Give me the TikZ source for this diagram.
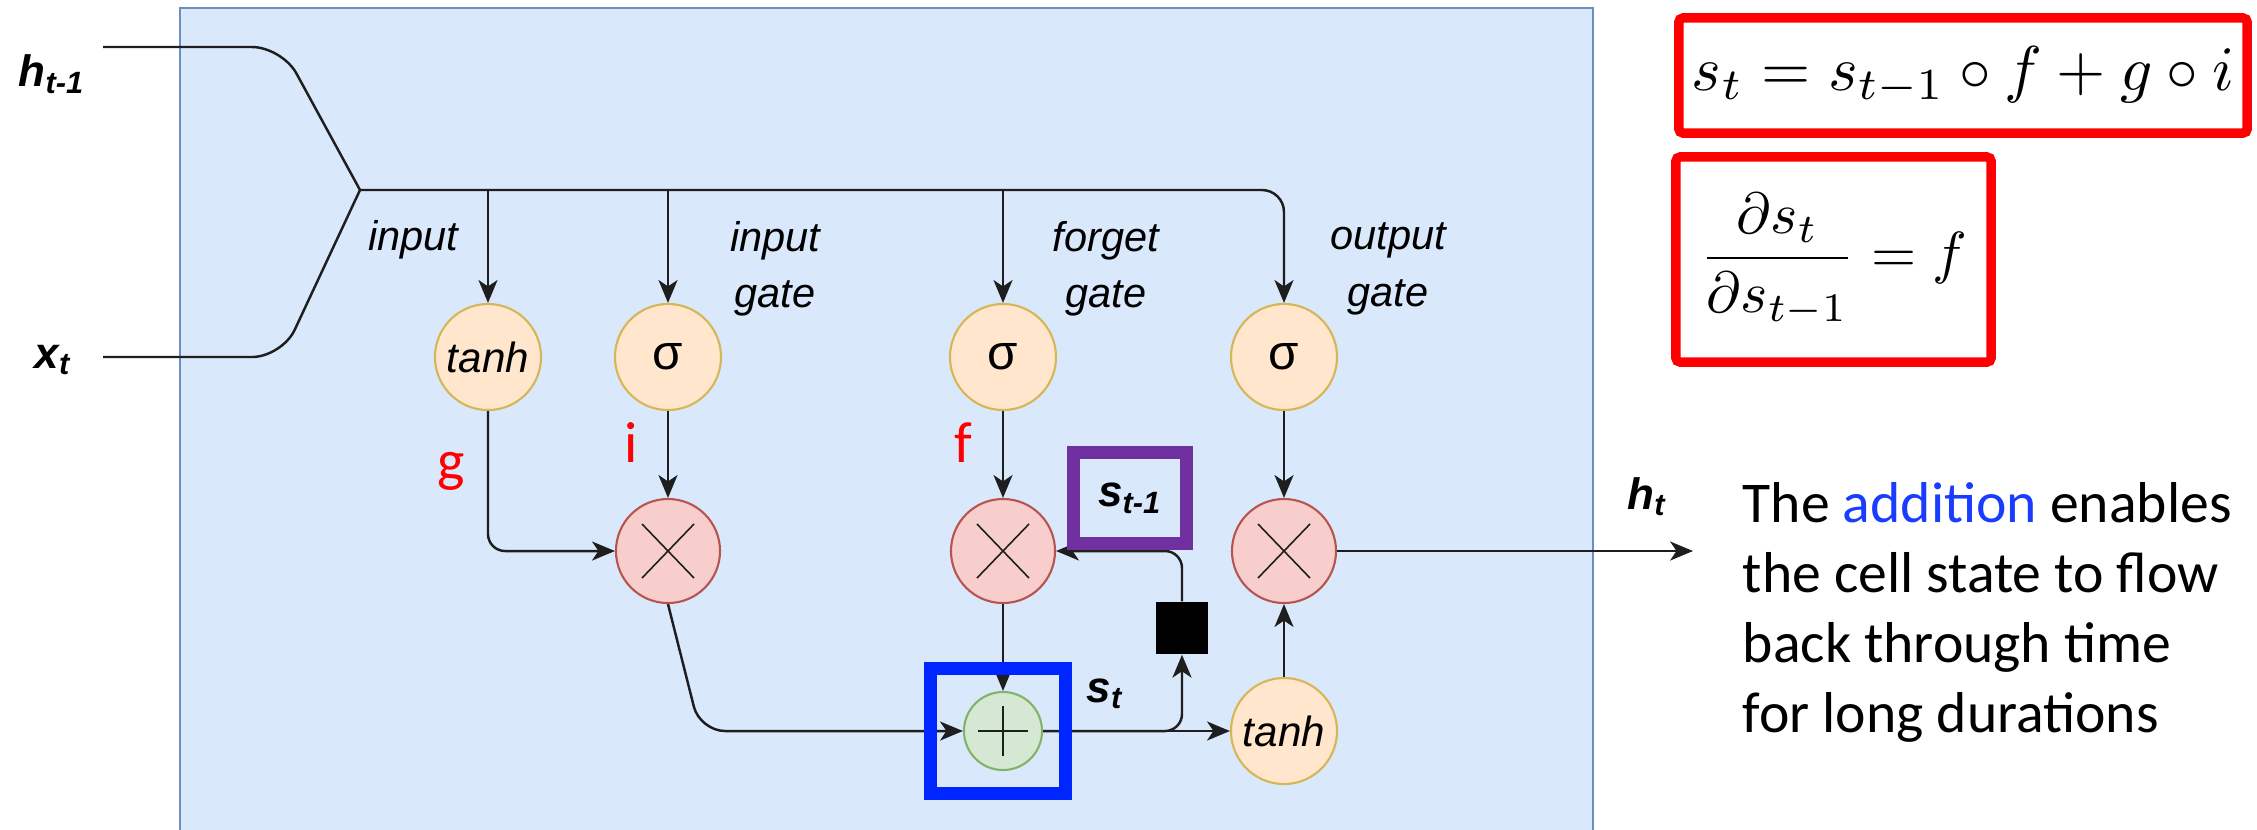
\documentclass[tikz,border=0pt]{standalone}
\usepackage{fontspec}
\usepackage{graphicx}
\setsansfont{Liberation Sans}
\newfontfamily\calibri{Carlito}
\usetikzlibrary{arrows.meta}

\definecolor{cellfill}{HTML}{DAE8FC}
\definecolor{cellline}{HTML}{6C8EBF}
\definecolor{gatefill}{HTML}{FFE6CC}
\definecolor{gateline}{HTML}{D6B656}
\definecolor{mulfill}{HTML}{F8CECC}
\definecolor{mulline}{HTML}{B85450}
\definecolor{addfill}{HTML}{D5E8D4}
\definecolor{addline}{HTML}{82B366}
\definecolor{hlblue}{HTML}{0026FF}
\definecolor{hlpurple}{HTML}{7030A0}
\definecolor{hlred}{HTML}{FF0000}
\definecolor{wordblue}{HTML}{1A3CFF}
\definecolor{wire}{HTML}{1E1E1E}

\newcommand{\lblfont}{\sffamily\bfseries\itshape\fontsize{12.5}{14}\selectfont}
\newcommand{\gatefont}{\sffamily\itshape\fontsize{11.8}{16}\selectfont}

\tikzset{
  wireline/.style={draw=wire, line width=0.7pt},
  arr/.style={wireline, -{Stealth[length=6.5pt, width=5.4pt, inset=1.8pt]}},
  gate/.style={circle, draw=gateline, fill=gatefill, line width=0.6pt, minimum size=1.06cm,
    inner sep=0pt, font=\sffamily\fontsize{12}{14}\selectfont},
  mul/.style={circle, draw=mulline, fill=mulfill, line width=0.6pt, minimum size=1.04cm, inner sep=0pt,
    path picture={\draw[wire, line width=0.45pt] (path picture bounding box.center)
      +(-0.26cm,-0.27cm) -- +(0.26cm,0.27cm) +(-0.26cm,0.27cm) -- +(0.26cm,-0.27cm);}},
  addnode/.style={circle, draw=addline, fill=addfill, line width=0.6pt, minimum size=0.78cm, inner sep=0pt,
    path picture={\draw[wire, line width=0.5pt] (path picture bounding box.center)
      +(-0.25cm,0) -- +(0.25cm,0) +(0,-0.25cm) -- +(0,0.25cm);}},
  delaybox/.style={fill=black, minimum size=0.52cm, inner sep=0pt},
  iolbl/.style={font=\lblfont, inner sep=0pt},
  gatelbl/.style={font=\gatefont, align=center, inner sep=0pt},
  redlbl/.style={text=hlred, font=\calibri\fontsize{16.5}{18}\selectfont, inner sep=0pt, anchor=base},
  hlbox/.style={draw, line width=3.7pt, inner sep=0pt},
  eqbox/.style={draw=hlred, line width=2.7pt, rounded corners=1.2pt, inner sep=0pt},
}

\begin{document}
\begin{tikzpicture}[x=0.01cm, y=-0.01cm]
  \useasboundingbox (0,0) rectangle (2257,829);
  \clip (0,0) rectangle (2257,829);

  % Cellule
  \draw[fill=cellfill, draw=cellline, line width=0.6pt] (180,8) rectangle (1593,870);

  % Entrees
  \node[iolbl] (hprev) at (52,74) {h\textsubscript{t-1}};
  \node[iolbl] (xin) at (53,360) {x\textsubscript{t}};
  \coordinate (hstart) at (103,47);
  \coordinate (xstart) at (103,357);
  \coordinate (hbend) at (282,47);
  \coordinate (xbend) at (282,357);
  \coordinate (junc) at (360,190);
  \draw[wireline, rounded corners=0.3cm] (hstart) -- (hbend) -- (junc);
  \draw[wireline, rounded corners=0.3cm] (xstart) -- (xbend) -- (junc);

  % Portes
  \node[gate] (tanhg) at (488,357) {\textit{tanh}};
  \node[gate, font=\sffamily\fontsize{14}{16}\selectfont] (sigi) at (668,357) {σ};
  \node[gate, font=\sffamily\fontsize{14}{16}\selectfont] (sigf) at (1003,357) {σ};
  \node[gate, font=\sffamily\fontsize{14}{16}\selectfont] (sigo) at (1284,357) {σ};
  \node[gatelbl, anchor=base] (lblin) at (413,250) {input};
  \node[gatelbl] (lblig) at (775,269) {input\\gate};
  \node[gatelbl] (lblfg) at (1106,269) {forget\\gate};
  \node[gatelbl] (lblog) at (1388,269) {output\\gate};
  \node[redlbl] (lblg) at (451,480) {g};
  \node[redlbl] (lbli) at (631,462) {i};
  \node[redlbl] (lblf) at (963,462) {f};

  % Operations
  \node[mul] (muli) at (668,551) {};
  \node[mul] (mulf) at (1003,551) {};
  \node[mul] (mulo) at (1284,551) {};
  \node[addnode] (add) at (1003,731) {};
  \node[gate] (tanhc) at (1284,731) {\textit{tanh}};
  \node[delaybox] (delay) at (1182,628) {};
  \node[iolbl] (slbl) at (1105,694) {s\textsubscript{t}};
  \node[iolbl] (hlbl) at (1647,497) {h\textsubscript{t}};

  % Connexions
  \draw[arr, rounded corners=0.22cm] (junc) -- (sigo |- junc) -- (sigo);
  \foreach \g in {tanhg, sigi, sigf}
    \draw[arr] (\g |- junc) -- (\g);
  \draw[arr, rounded corners=0.17cm] (tanhg) -- (tanhg |- muli) -- (muli);
  \foreach \g/\m in {sigi/muli, sigf/mulf, sigo/mulo}
    \draw[arr] (\g) -- (\m);
  \coordinate (ibend) at (700,731);
  \draw[arr, rounded corners=0.25cm] (muli.south) -- (ibend) -- (add);
  \draw[arr] (mulf) -- (add);
  \draw[arr] (add) -- (tanhc);
  \draw[arr, rounded corners=0.17cm] (add) -- (delay |- add) -- (delay);
  \draw[arr, rounded corners=0.17cm] (delay) -- (delay |- mulf) -- (mulf);
  \draw[arr] (tanhc) -- (mulo);
  \coordinate (hout) at (1693,551);
  \draw[arr] (mulo) -- (hout);

  % Mise en evidence
  \node[hlbox, draw=hlblue, minimum width=1.355cm, minimum height=1.25cm] (addhl) at (998,731) {};
  \node[hlbox, draw=hlpurple, minimum width=1.125cm, minimum height=0.9cm, font=\lblfont] (sprev) at (1130,498) {s\textsubscript{t-1}};

  % Equations
  \node[eqbox, minimum width=5.68cm, minimum height=1.15cm] (eqone) at (1963,75.5)
    {\scalebox{1.8}{$s_t = s_{t-1}\circ f + g\circ i$}};
  \node[eqbox, minimum width=3.15cm, minimum height=2.05cm] (eqtwo) at (1833.5,259.5)
    {\scalebox{1.65}{$\displaystyle\frac{\partial s_t}{\partial s_{t-1}} = f$}};

  % Commentaire
  \node[anchor=north west, inner sep=0pt, align=left, font=\calibri\fontsize{16.4}{19.9}\selectfont] (note) at (1742,482)
    {The \textcolor{wordblue}{addition} enables\\the cell state to flow\\back through time\\for long durations};
\end{tikzpicture}
\end{document}
